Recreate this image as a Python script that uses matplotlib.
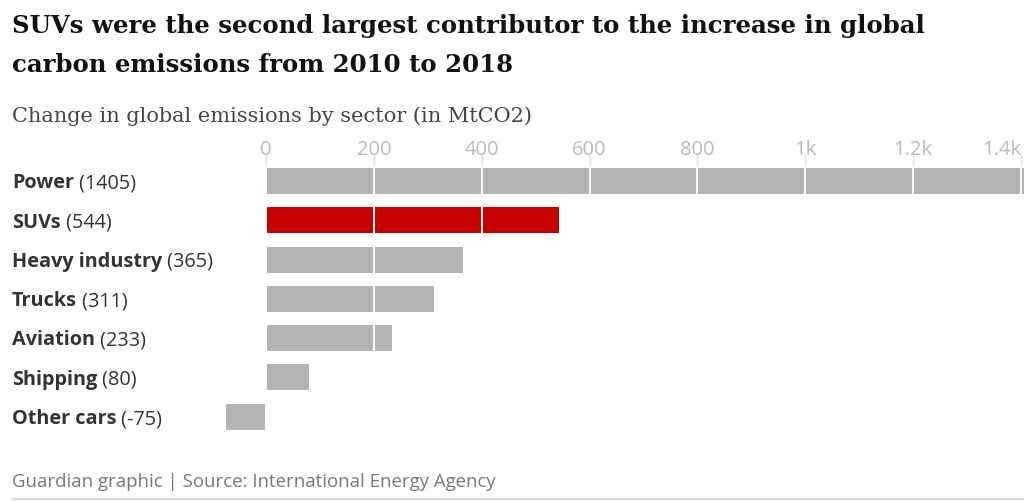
import matplotlib
matplotlib.use("Agg")
import matplotlib.pyplot as plt
from matplotlib.transforms import blended_transform_factory

sectors = ["Power", "SUVs", "Heavy industry", "Trucks", "Aviation", "Shipping", "Other cars"]
values = [1405, 544, 365, 311, 233, 80, -75]
bar_colors = ["#b3b3b3", "#c70000", "#b3b3b3", "#b3b3b3", "#b3b3b3", "#b3b3b3", "#b3b3b3"]
ticks = [0, 200, 400, 600, 800, 1000, 1200, 1400]
tick_labels = ["0", "200", "400", "600", "800", "1k", "1.2k", "1.4k"]

W, H = 1024, 501
fig = plt.figure(figsize=(W / 100, H / 100), dpi=100)

# px helpers
def fx(px):
    return px / W

def fy(py):
    return 1 - py / H

# axis: 0 at x=266px, 1400 at x=1021px
scale = (1021 - 266) / 1400
xmin, xmax = -75, 1405
left = 266 + xmin * scale
right = 266 + xmax * scale
top, bottom = 166, 436
ax = fig.add_axes([fx(left), fy(bottom), fx(right - left), (bottom - top) / H])

ypos = list(range(len(sectors)))
ax.barh(ypos, values, height=0.66, color=bar_colors, zorder=1)
ax.set_xlim(xmin, xmax)
ax.set_ylim(6.49, -0.38)

ax.set_xticks(ticks)
ax.set_xticklabels(tick_labels, family="Open Sans", fontsize=14.5, color="#bbbbbb")
ax.xaxis.tick_top()
ax.tick_params(axis="x", length=8, width=1, color="#dddddd", pad=-4)
ax.get_xticklabels()[-1].set_ha("right")
ax.set_yticks([])
ax.grid(axis="x", color="white", linewidth=1.4, zorder=2)
ax.set_axisbelow(False)
for s in ax.spines.values():
    s.set_visible(False)

# row labels: bold name + regular value
tr = blended_transform_factory(fig.transFigure, ax.transData)
for i, (name, v) in enumerate(zip(sectors, values)):
    t = fig.text(fx(12), i + 0.06, name, transform=tr, family="Open Sans", fontweight="bold",
                 fontsize=14.3, color="#333333", va="center", ha="left")
    ax.annotate(" (%d)" % v, xy=(1, 0), xycoords=t, va="bottom", ha="left",
                family="Open Sans", fontsize=14.3, color="#333333", annotation_clip=False)

fig.text(fx(12), fy(33), "SUVs were the second largest contributor to the increase in global",
         family="DejaVu Serif", fontweight="bold", fontsize=17.6, color="#121212",
         va="baseline", ha="left")
fig.text(fx(12), fy(72), "carbon emissions from 2010 to 2018",
         family="DejaVu Serif", fontweight="bold", fontsize=17.6, color="#121212",
         va="baseline", ha="left")
fig.text(fx(12), fy(122), "Change in global emissions by sector (in MtCO2)",
         family="DejaVu Serif", fontsize=15, color="#444444", va="baseline", ha="left")
fig.text(fx(12), fy(487), "Guardian graphic | Source: International Energy Agency",
         family="Open Sans", fontsize=13.4, color="#767676", va="baseline", ha="left")
fig.add_artist(plt.Line2D([fx(12), fx(1024)], [fy(499), fy(499)], color="#dcdcdc", linewidth=1.5))

fig.savefig("out.png", dpi=100)
